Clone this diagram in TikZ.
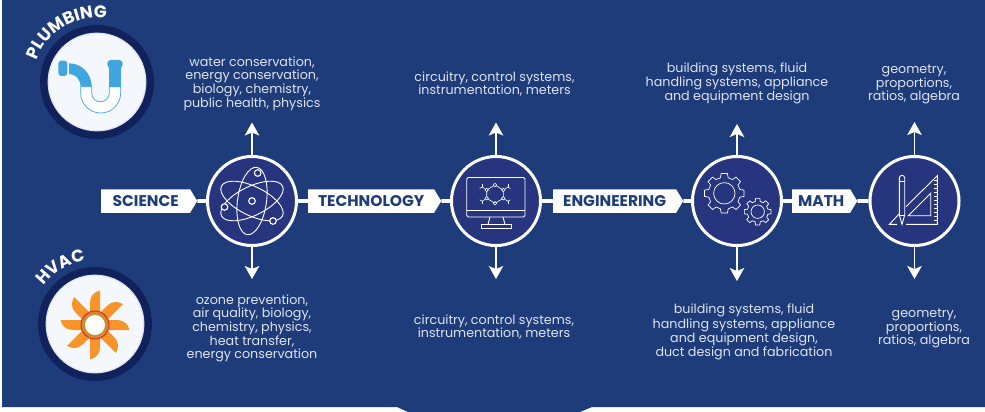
\documentclass[tikz,border=0pt]{standalone}
\usepackage{fontspec}
\setmainfont{Poppins}
\usetikzlibrary{shapes.symbols,decorations.text,arrows.meta}
\definecolor{bandblue}{HTML}{1E3C7A}
\definecolor{discblue}{HTML}{27357F}
\definecolor{ringblue}{HTML}{10215C}
\definecolor{paleblue}{HTML}{F4F8FC}
\definecolor{pipeblue}{HTML}{3FA6DF}
\definecolor{fanorange}{HTML}{F7942A}
\definecolor{fangold}{HTML}{C8912F}
\definecolor{fanred}{HTML}{E8262C}
\definecolor{bodytext}{HTML}{DDE3EF}
\tikzset{
	tagbox/.style = {signal, signal to=east, signal pointer angle=118, fill=white, text=bandblue, font=\fontsize{15.5}{15.5}\selectfont\bfseries, inner sep=0pt, minimum height=23.5pt, anchor=west},
	stemdisc/.style = {circle, draw=white, line width=3pt, fill=discblue, minimum size=89pt, inner sep=0pt},
	tradedisc/.style = {circle, draw=ringblue, line width=8pt, fill=paleblue, minimum size=106pt, inner sep=0pt},
	bodynote/.style = {align=center, text=bodytext, font=\fontsize{12.7}{13}\selectfont, inner sep=0pt},
	linkline/.style = {draw=white, line width=3.6pt},
	outline/.style = {draw=white, line width=0.9pt},
	outarrow/.style = {draw=white, line width=1.7pt, -{Stealth[length=13pt,width=14.5pt,inset=3pt]}}
}
% one gear: centre, root radius, tooth radius, hole radius
\newcommand{\gearicon}[4]{
	\foreach \a in {0,45,...,315} {
		\draw[outline, line width=0.7pt] ([shift={(\a-14:#2)}]#1) -- ([shift={(\a-9:#3)}]#1) -- ([shift={(\a+9:#3)}]#1) -- ([shift={(\a+14:#2)}]#1) -- ([shift={(\a+31:#2)}]#1);
	}
	\draw[outline, line width=0.7pt] (#1) circle (#4);
}
\begin{document}
\begin{tikzpicture}[x=1pt,y=-1pt]
	\path [use as bounding box] (0,0) rectangle (985,412);
	\fill[white] (0,0) rectangle (985,412);
	\fill[bandblue] (2,0) -- (985,0) -- (985,407) -- (592,407) -- (580,412) -- (408,412) -- (397,407) -- (2,407) -- cycle;
	% the four stages
	\node[stemdisc] (SCI) at (252,201) {};
	\node[stemdisc] (TEC) at (496,201) {};
	\node[stemdisc] (ENG) at (737,201) {};
	\node[stemdisc] (MAT) at (914.5,201) {};
	\node[tagbox, minimum width=96pt] (SCItag) at (101,201) {SCIENCE};
	\node[tagbox, minimum width=133pt] (TECtag) at (308,201) {TECHNOLOGY};
	\node[tagbox, minimum width=130pt] (ENGtag) at (553,201) {ENGINEERING};
	\node[tagbox, minimum width=65pt] (MATtag) at (792,201) {MATH};
	\draw[linkline] (SCItag) -- (SCI);
	\draw[linkline] (SCI) -- (TECtag);
	\draw[linkline] (TECtag) -- (TEC);
	\draw[linkline] (TEC) -- (ENGtag);
	\draw[linkline] (ENGtag) -- (ENG);
	\draw[linkline] (ENG) -- (MATtag);
	\draw[linkline] (MATtag) -- (MAT);
	% free ends of the arrows
	\coordinate (SCIup) at (252,122.5);
	\coordinate (SCIdn) at (252,279);
	\coordinate (TECup) at (496,122.5);
	\coordinate (TECdn) at (496,279);
	\coordinate (ENGup) at (737,124);
	\coordinate (ENGdn) at (737,281);
	\coordinate (MATup) at (914.5,122);
	\coordinate (MATdn) at (914.5,279);
	\foreach \n in {SCI,TEC,ENG,MAT} {
		\draw[outarrow] (\n.north) -- (\n up);
		\draw[outarrow] (\n.south) -- (\n dn);
	}
	% texts
	\node[bodynote] (SCIa) at (252,84) {water conservation,\\energy conservation,\\biology, chemistry,\\public health, physics};
	\node[bodynote] (SCIb) at (252,328) {ozone prevention,\\air quality, biology,\\chemistry, physics,\\heat transfer,\\energy conservation};
	\node[bodynote] (TECa) at (494.5,84) {circuitry, control systems,\\instrumentation, meters};
	\node[bodynote] (TECb) at (494,327) {circuitry, control systems,\\instrumentation, meters};
	\node[bodynote] (ENGa) at (737,83) {building systems, fluid\\handling systems, appliance\\and equipment design};
	\node[bodynote] (ENGb) at (744,332) {building systems, fluid\\handling systems, appliance\\and equipment design,\\duct design and fabrication};
	\node[bodynote] (MATa) at (914,84.5) {geometry,\\proportions,\\ratios, algebra};
	\node[bodynote] (MATb) at (924,328) {geometry,\\proportions,\\ratios, algebra};
	% atom
	\foreach \r in {-26,26,82} {
		\draw[outline, rotate around={\r:(SCI)}] (SCI) ellipse (34 and 14.5);
	}
	\foreach \p in {(252,201),(257.7,173),(224.5,207),(273,221)} {
		\draw[outline, line width=1.1pt, fill=discblue] \p circle (3.3);
	}
	% monitor
	\draw[outline, rounded corners=1.5pt] (466.7,177.5) rectangle (525,217);
	\draw[outline] (466.7,210) -- (525,210);
	\draw[outline] (490,217) -- (488,224.5);
	\draw[outline] (503,217) -- (505,224.5);
	\draw[outline] (481.7,224.5) rectangle (511.7,228.5);
	\draw[outline, line width=0.6pt] (495,185) -- (503.3,190) -- (503.3,198.3) -- (495,203.3) -- (486.7,198.3) -- (486.7,190) -- cycle;
	\foreach \x/\y/\s/\t in {486.7/190/-1/-1, 503.3/190/1/-1, 486.7/198.3/-1/1, 503.3/198.3/1/1} {
		\draw[outline, line width=0.6pt] (\x,\y) -- ++(\s*4.5,\t*3) -- ++(\s*2.5,\t*-1.5);
		\draw[outline, line width=0.6pt] (\x+\s*4.5,\y+\t*3) -- ++(0,\t*3);
	}
	\foreach \p in {(495,185),(503.3,190),(503.3,198.3),(495,203.3),(486.7,198.3),(486.7,190)} {
		\draw[outline, line width=0.6pt, fill=discblue] \p circle (1.7);
	}
	% gears
	\coordinate (GearA) at (724.3,193.3);
	\coordinate (GearB) at (757.7,211.7);
	\gearicon{GearA}{16}{20}{10.7}
	\gearicon{GearB}{10.5}{13.5}{6.7}
	% pencil and set square
	\draw[outline] (899.3,178) arc[start angle=180,end angle=360,radius=2.7] -- (904.7,215) -- (902,224.3) -- (899.3,215) -- cycle;
	\draw[outline] (899.3,181) -- (904.7,181);
	\draw[outline] (899.3,215) -- (904.7,215);
	\draw[outline] (906,206.7) -- (937.3,175.7) -- (937.3,224.3) -- (906,224.3);
	\draw[outline] (899,214) -- (889.5,224.3) -- (897,224.3);
	\draw[outline] (930.7,193.3) -- (930.7,215.7) -- (908.3,215.7) -- cycle;
	\foreach \y in {180,184,...,220} {
		\draw[outline, line width=0.7pt] (937.3,\y) -- (933.5,\y);
	}
	% trades
	\node[tradedisc] (PLU) at (97,82) {};
	\node[tradedisc] (HVA) at (95,324) {};
	\draw[bodytext, line width=1.2pt] (PLU) circle (48.8);
	\draw[bodytext, line width=1.2pt] (HVA) circle (48.8);
	\path[postaction={decorate,decoration={text along path,text align=center,text color=white,text={|\fontsize{17}{17}\selectfont\bfseries|PLUMBING}}}] (97,82) ++(-173:64) arc[start angle=-173,end angle=-69,radius=64];
	\path[postaction={decorate,decoration={text along path,text align=center,text color=white,text={|\fontsize{17}{17}\selectfont\bfseries|HVAC}}}] (95,324) ++(-163:64) arc[start angle=-163,end angle=-79,radius=64];
	% pipe
	\fill[pipeblue, rounded corners=3pt] (58.3,60.7) rectangle (67.3,76);
	\fill[pipeblue, rounded corners=3.5pt] (107.3,60) rectangle (122.7,68.3);
	\draw[pipeblue, line width=0.7pt, fill=white] (80.7,86.7) -- (80.7,93) arc[start angle=180,end angle=0,radius=20] -- (120.7,86.7) -- (109.3,86.7) -- (109.3,93) arc[start angle=0,end angle=180,radius=8.8] -- (91.7,86.7) -- cycle;
	\fill[pipeblue] (69,63.3) .. controls (82,63.3) and (91.7,74) .. (91.7,86.7) -- (80.7,86.7) .. controls (80.7,80) and (76,74) .. (69,74) -- cycle;
	\fill[pipeblue] (109.3,68.3) rectangle (120.7,86.7);
	% fan
	\foreach \a in {0,45,...,315} {
		\begin{scope}[shift={(95,325)}, rotate=-\a]
			\fill[fanorange] (-5,-10) -- (-5,-22) .. controls (-5,-29) and (-1,-33) .. (5,-34.5) -- (5,-10) -- cycle;
		\end{scope}
	}
	\draw[fanred, line width=1pt, fill=fangold] (95,325) circle (14);
	\fill[white] (95,325) circle (10);
\end{tikzpicture}
\end{document}
